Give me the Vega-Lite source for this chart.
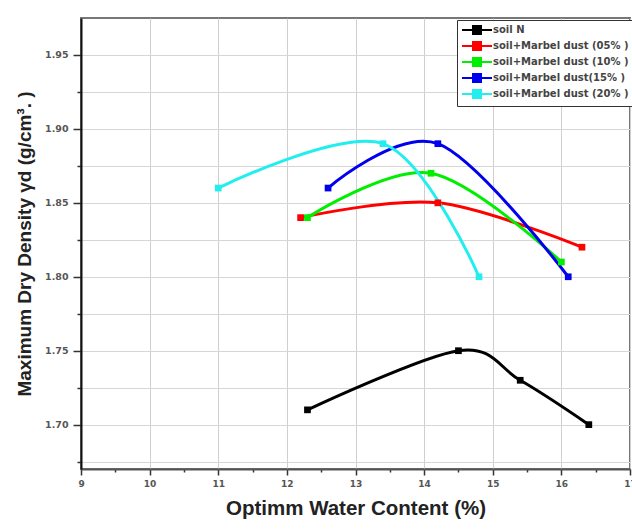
{
  "$schema": "https://vega.github.io/schema/vega-lite/v6.json",
  "width": 549,
  "height": 451,
  "autosize": {"type": "none"},
  "padding": {"left": 81, "top": 18, "right": 2, "bottom": 60},
  "background": "white",
  "config": {"view": {"stroke": "#777", "strokeWidth": 2}, "font": "Liberation Sans"},
  "data": {
    "values": [
      {"series": "soil N", "w": 12.3, "d": 1.71},
      {"series": "soil N", "w": 14.5, "d": 1.75},
      {"series": "soil N", "w": 15.4, "d": 1.73},
      {"series": "soil N", "w": 16.4, "d": 1.70},
      {"series": "soil+Marbel dust (05% )", "w": 12.2, "d": 1.84},
      {"series": "soil+Marbel dust (05% )", "w": 14.2, "d": 1.85},
      {"series": "soil+Marbel dust (05% )", "w": 16.3, "d": 1.82},
      {"series": "soil+Marbel dust (10% )", "w": 12.3, "d": 1.84},
      {"series": "soil+Marbel dust (10% )", "w": 14.1, "d": 1.87},
      {"series": "soil+Marbel dust (10% )", "w": 16.0, "d": 1.81},
      {"series": "soil+Marbel dust(15% )", "w": 12.6, "d": 1.86},
      {"series": "soil+Marbel dust(15% )", "w": 14.2, "d": 1.89},
      {"series": "soil+Marbel dust(15% )", "w": 16.1, "d": 1.80},
      {"series": "soil+Marbel dust (20% )", "w": 11.0, "d": 1.86},
      {"series": "soil+Marbel dust (20% )", "w": 13.4, "d": 1.89},
      {"series": "soil+Marbel dust (20% )", "w": 14.8, "d": 1.80}
    ]
  },
  "encoding": {
    "x": {
      "field": "w", "type": "quantitative",
      "scale": {"domain": [9, 17], "nice": false, "zero": false},
      "axis": {
        "title": "Optimm Water Content (%)",
        "titleFontSize": 20.5, "titleFontWeight": "bold", "titleColor": "#222", "titlePadding": 10,
        "values": [9, 9.5, 10, 10.5, 11, 11.5, 12, 12.5, 13, 13.5, 14, 14.5, 15, 15.5, 16, 16.5, 17],
        "labelExpr": "datum.value % 1 === 0 ? format(datum.value, 'd') : ''",
        "labelOverlap": false, "labelFlush": false,
        "labelFont": "DejaVu Sans", "labelFontSize": 9, "labelFontWeight": "bold", "labelColor": "#555", "labelPadding": 4,
        "grid": true, "gridColor": "#cfcfcf",
        "gridOpacity": {"condition": {"test": "datum.value % 1 !== 0", "value": 0}, "value": 1},
        "tickSize": {"condition": {"test": "datum.value % 1 !== 0", "value": 3}, "value": 6},
        "tickColor": "#333", "tickWidth": 1.5,
        "domainColor": "#555", "domainWidth": 2
      }
    },
    "y": {
      "field": "d", "type": "quantitative",
      "scale": {"domain": [1.67, 1.975], "nice": false, "zero": false},
      "axis": {
        "title": "Maximum Dry Density γd (g/cm³. )",
        "titleFontSize": 19, "titleFontWeight": "bold", "titleColor": "#222", "titlePadding": 10,
        "values": [1.675, 1.7, 1.725, 1.75, 1.775, 1.8, 1.825, 1.85, 1.875, 1.9, 1.925, 1.95],
        "labelExpr": "abs(datum.value * 20 - round(datum.value * 20)) < 0.001 ? format(datum.value, '.2f') : ''",
        "labelOverlap": false, "labelFlush": false,
        "labelFont": "DejaVu Sans", "labelFontSize": 9.5, "labelFontWeight": "bold", "labelColor": "#555", "labelPadding": 5,
        "grid": true, "gridColor": "#d6d6d6",
        "tickSize": {"condition": {"test": "abs(datum.value * 20 - round(datum.value * 20)) > 0.001", "value": 4}, "value": 8},
        "tickColor": "#333", "tickWidth": 1.5,
        "domainColor": "#111", "domainWidth": 2
      }
    },
    "color": {
      "field": "series", "type": "nominal",
      "scale": {
        "domain": ["soil N", "soil+Marbel dust (05% )", "soil+Marbel dust (10% )", "soil+Marbel dust(15% )", "soil+Marbel dust (20% )"],
        "range": ["#000000", "#ff0000", "#00ee00", "#0000ee", "#22eeee"]
      },
      "legend": {
        "title": null, "orient": "none", "legendX": 376, "legendY": 2,
        "symbolType": "M-1,0H5M1.2,-0.8H2.8V0.8H1.2Z", "symbolSize": 100, "symbolStrokeWidth": 2,
        "labelOffset": 20, "padding": 4, "rowPadding": 0,
        "strokeColor": "#333", "fillColor": "white",
        "labelFont": "DejaVu Sans", "labelFontSize": 10, "labelFontWeight": "bold", "labelColor": "#444",
        "encode": {"symbols": {"update": {"fill": {"scale": "color", "field": "value"}, "stroke": {"scale": "color", "field": "value"}}}}
      }
    }
  },
  "layer": [
    {"mark": {"type": "line", "interpolate": "cardinal", "strokeWidth": 3}},
    {"mark": {"type": "point", "shape": "square", "filled": true, "size": 45, "opacity": 1}}
  ]
}
